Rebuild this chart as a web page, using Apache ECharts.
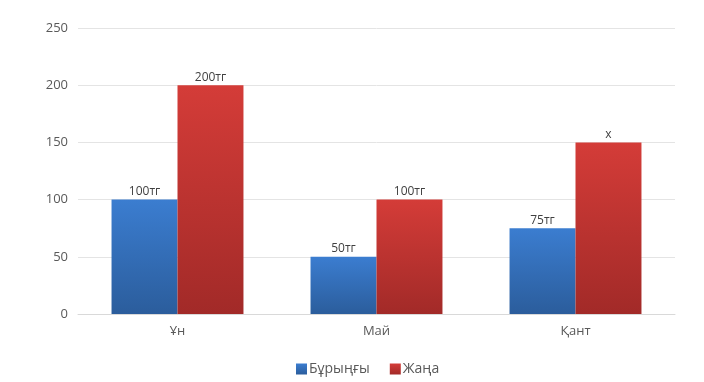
<!DOCTYPE html>
<html><head><meta charset="utf-8">
<script src="https://cdn.jsdelivr.net/npm/echarts@6/dist/echarts.min.js"></script>
<style>html,body{margin:0;padding:0;background:#fff}#c{width:704px;height:382px}</style>
</head><body><div id="c"></div>
<script>
const categories = ['Ұн', 'Май', 'Қант'];
const seriesNames = ['Бұрыңғы', 'Жаңа'];
const oldValues = [100, 50, 75];
const newValues = [200, 100, 150];
const oldLabels = ['100тг', '50тг', '75тг'];
const newLabels = ['200тг', '100тг', 'x'];

const chart = echarts.init(document.getElementById('c'));
const grad = (top, bottom) => new echarts.graphic.LinearGradient(0, 0, 0, 1, [{offset: 0, color: top}, {offset: 1, color: bottom}]);
const font = 'Open Sans, Noto Sans, sans-serif';
chart.setOption({
  animation: false,
  textStyle: {fontFamily: font},
  grid: {left: 78, right: 29, top: 28, bottom: 68},
  legend: {
    bottom: 1, left: 291, itemWidth: 11, itemHeight: 11, itemGap: 20,
    icon: 'rect',
    textStyle: {color: '#595959', fontSize: 14, fontFamily: font, padding: [0, 0, 0, -3]},
    data: seriesNames
  },
  xAxis: {
    type: 'category', data: categories,
    axisLine: {lineStyle: {color: '#d9d9d9'}},
    axisTick: {show: false},
    axisLabel: {color: '#595959', fontSize: 13, margin: 11, fontFamily: font}
  },
  yAxis: {
    type: 'value', min: 0, max: 250, interval: 50,
    axisLine: {show: false}, axisTick: {show: false},
    splitLine: {lineStyle: {color: '#e4e4e4'}},
    axisLabel: {color: '#595959', fontSize: 13, margin: 10, fontFamily: font}
  },
  series: [
    {
      name: seriesNames[0], type: 'bar', barGap: '0%', barCategoryGap: '33.7%',
      itemStyle: {color: grad('#3b7dd0', '#2b5d9c')},
      label: {show: true, position: 'top', distance: 2, color: '#404040', fontSize: 12, fontFamily: font,
        formatter: p => oldLabels[p.dataIndex]},
      data: oldValues
    },
    {
      name: seriesNames[1], type: 'bar',
      itemStyle: {color: grad('#d43c38', '#a22a28')},
      label: {show: true, position: 'top', distance: 2, color: '#404040', fontSize: 12, fontFamily: font,
        formatter: p => newLabels[p.dataIndex]},
      data: newValues
    }
  ]
});
</script></body></html>
